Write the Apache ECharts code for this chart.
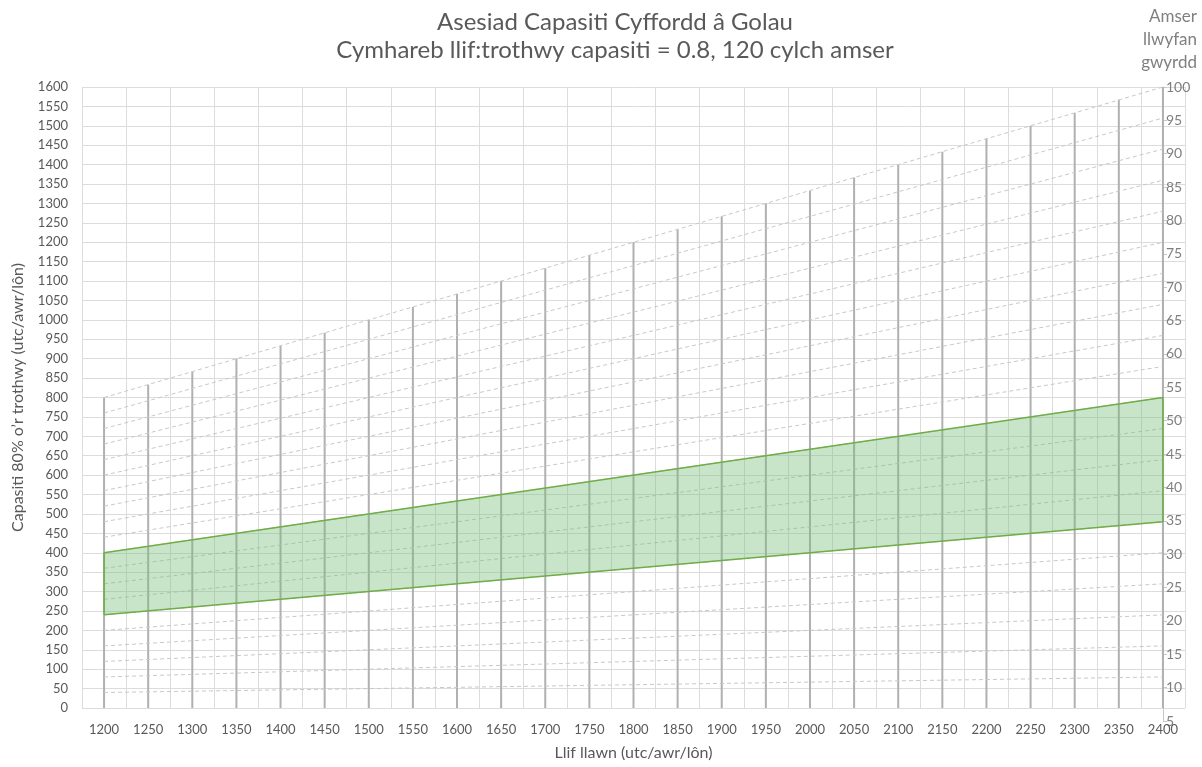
<!DOCTYPE html>
<html>
<head>
<meta charset="utf-8">
<script src="https://cdn.jsdelivr.net/npm/echarts@6/dist/echarts.min.js"></script>
<style>
  html, body { margin: 0; padding: 0; background: #fff; }
  #container { width: 1202px; height: 767px; }
</style>
</head>
<body>
<div id="container"></div>
<script>
// flow ticks on the x axis (utc/awr/lon)
var flowTicks = [1200, 1250, 1300, 1350, 1400, 1450, 1500, 1550, 1600, 1650, 1700, 1750, 1800,
  1850, 1900, 1950, 2000, 2050, 2100, 2150, 2200, 2250, 2300, 2350, 2400];
// top of the dark vertical lines (they stop at the 100 green-time line)
var verticalTops = [800, 833, 867, 900, 933, 967, 1000, 1033, 1067, 1100, 1133, 1167, 1200,
  1233, 1267, 1300, 1333, 1367, 1400, 1433, 1467, 1500, 1533, 1567, 1600];

// dashed green-time lines: value at x=1200 and at x=2400
var greenTimes = [5, 10, 15, 20, 25, 30, 35, 40, 45, 50, 55, 60, 65, 70, 75, 80, 85, 90, 95, 100];
var capAt1200 = [40, 80, 120, 160, 200, 240, 280, 320, 360, 400, 440, 480, 520, 560, 600, 640, 680, 720, 760, 800];
var capAt2400 = [80, 160, 240, 320, 400, 480, 560, 640, 720, 800, 880, 960, 1040, 1120, 1200, 1280, 1360, 1440, 1520, 1600];

// shaded band (between green time 30 and 50)
var bandX = [1200, 2400];
var bandLow = [240, 480];
var bandHigh = [400, 800];

// right axis labels
var rightTicks = [5, 10, 15, 20, 25, 30, 35, 40, 45, 50, 55, 60, 65, 70, 75, 80, 85, 90, 95, 100];

var dom = document.getElementById('container');
var myChart = echarts.init(dom);

var font = 'Lato, "Open Sans", sans-serif';
var txt = '#595959';
var plain = function (v) { return String(v); };

var series = [];

// vertical grey lines
series.push({
  type: 'bar',
  barWidth: 2,
  itemStyle: { color: '#b0b0b0' },
  silent: true,
  z: 2,
  data: flowTicks.map(function (x, i) { return [x, verticalTops[i]]; })
});

// dashed lines
greenTimes.forEach(function (g, i) {
  series.push({
    name: 'g' + g,
    type: 'line',
    symbol: 'none',
    silent: true,
    z: 3,
    lineStyle: { color: '#c8c8c8', width: 1, type: [4, 3] },
    data: [[1200, capAt1200[i]], [2400, capAt2400[i]]]
  });
});

// band fill: polygon between low and high edges
series.push({
  type: 'custom',
  silent: true,
  z: 4,
  data: bandX.map(function (x, i) { return [x, bandLow[i], bandHigh[i]]; }),
  renderItem: function (params, api) {
    var i = params.dataIndexInside;
    if (i >= params.dataInsideLength - 1) return;
    var x0 = api.value(0, i), x1 = api.value(0, i + 1);
    var pts = [
      api.coord([x0, api.value(1, i)]),
      api.coord([x1, api.value(1, i + 1)]),
      api.coord([x1, api.value(2, i + 1)]),
      api.coord([x0, api.value(2, i)])
    ];
    return {
      type: 'polygon',
      shape: { points: pts },
      style: { fill: 'rgba(120,190,120,0.4)' }
    };
  }
});
// band outline
series.push({
  type: 'line',
  symbol: 'none',
  silent: true,
  z: 5,
  lineStyle: { color: '#70ad47', width: 1.5 },
  data: [[bandX[0], bandLow[0]], [bandX[1], bandLow[1]], [bandX[1], bandHigh[1]],
    [bandX[0], bandHigh[0]], [bandX[0], bandLow[0]]]
});

option = {
  animation: false,
  textStyle: { fontFamily: font },
  title: [{
    text: 'Asesiad Capasiti Cyffordd â Golau\nCymhareb llif:trothwy capasiti = 0.8, 120 cylch amser',
    left: 610,
    top: 3,
    textAlign: 'center',
    textStyle: { fontFamily: font, fontSize: 24, fontWeight: 'normal', color: txt, lineHeight: 28 }
  }, {
    text: 'Amser\nllwyfan\ngwyrdd',
    left: 1192,
    top: 0,
    textAlign: 'right',
    textStyle: { fontFamily: font, fontSize: 17, fontWeight: 'normal', color: '#7f7f7f', lineHeight: 23, align: 'right' }
  }],
  grid: [
    { left: 82, right: 17, top: 87, bottom: 59 },
    { left: 82, right: 39, top: 87, bottom: 46 }
  ],
  xAxis: [{
    type: 'value',
    gridIndex: 0,
    min: 1175,
    max: 2425,
    interval: 50,
    name: 'Llif llawn (utc/awr/lôn)',
    nameLocation: 'middle',
    nameGap: 37,
    nameTextStyle: { fontFamily: font, fontSize: 16, color: txt },
    axisLine: { show: false },
    axisTick: { show: false },
    axisLabel: {
      customValues: flowTicks,
      formatter: plain,
      fontFamily: font, fontSize: 13, color: txt, margin: 15
    },
    splitLine: { show: true, lineStyle: { color: '#dcdcdc', width: 1 } }
  }, {
    type: 'value',
    gridIndex: 1,
    min: 1175,
    max: 2400,
    show: false
  }],
  yAxis: [{
    type: 'value',
    gridIndex: 0,
    min: 0,
    max: 1600,
    interval: 50,
    name: 'Capasiti 80% o’r trothwy (utc/awr/lôn)',
    nameLocation: 'middle',
    nameGap: 56,
    nameTextStyle: { fontFamily: font, fontSize: 16, color: txt },
    axisLine: { show: false },
    axisTick: { show: false },
    axisLabel: { formatter: plain, fontFamily: font, fontSize: 13, color: txt, margin: 14 },
    splitLine: { show: true, lineStyle: { color: '#dcdcdc', width: 1 } }
  }, {
    type: 'value',
    gridIndex: 1,
    position: 'right',
    min: 5,
    max: 100,
    interval: 5,
    axisLine: { show: true, lineStyle: { color: '#c8c8c8' } },
    axisTick: { show: true, inside: false, length: 4, lineStyle: { color: '#c8c8c8' } },
    axisLabel: { customValues: rightTicks, formatter: plain, fontFamily: font, fontSize: 14, color: '#7f7f7f', margin: 3 },
    splitLine: { show: false }
  }],
  series: series
};

if (option && typeof option === 'object') {
  myChart.setOption(option);
}
</script>
</body>
</html>
